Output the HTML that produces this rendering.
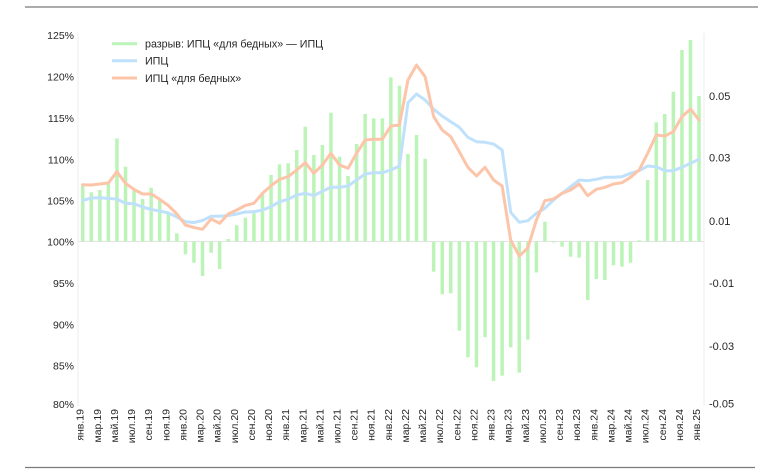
<!DOCTYPE html>
<html><head><meta charset="utf-8"><style>
html,body{margin:0;padding:0;background:#fff;}
body{width:780px;height:470px;overflow:hidden;}
svg text{font-family:"Liberation Sans","DejaVu Sans",sans-serif;fill:#262626;}
</style></head><body>
<svg width="780" height="470" viewBox="0 0 780 470" xmlns="http://www.w3.org/2000/svg">
<line x1="25" y1="7" x2="758" y2="7" stroke="#7a7a7a" stroke-width="1.3"/>
<line x1="25" y1="467.5" x2="755" y2="467.5" stroke="#7a7a7a" stroke-width="1.3"/>
<line x1="78" y1="33" x2="78" y2="406" stroke="#ececec" stroke-width="1"/>
<line x1="704" y1="33" x2="704" y2="406" stroke="#ececec" stroke-width="1"/>
<line x1="78" y1="241.5" x2="704" y2="241.5" stroke="#e4e4e4" stroke-width="1"/>
<g fill="#bcf4b8">
<rect x="81.0" y="184.5" width="3.5" height="57.0"/>
<rect x="89.5" y="192.3" width="3.5" height="49.2"/>
<rect x="98.1" y="190" width="3.5" height="51.5"/>
<rect x="106.6" y="184" width="3.5" height="57.5"/>
<rect x="115.2" y="138.5" width="3.5" height="103"/>
<rect x="123.8" y="166.7" width="3.5" height="74.8"/>
<rect x="132.3" y="190.5" width="3.5" height="51"/>
<rect x="140.9" y="199" width="3.5" height="42.5"/>
<rect x="149.4" y="187.7" width="3.5" height="53.8"/>
<rect x="158.0" y="199.5" width="3.5" height="42"/>
<rect x="166.6" y="213" width="3.5" height="28.5"/>
<rect x="175.1" y="233.3" width="3.5" height="8.2"/>
<rect x="183.7" y="241.5" width="3.5" height="12.8"/>
<rect x="192.2" y="241.5" width="3.5" height="21.2"/>
<rect x="200.8" y="241.5" width="3.5" height="34.5"/>
<rect x="209.4" y="241.5" width="3.5" height="11.2"/>
<rect x="217.9" y="241.5" width="3.5" height="27.5"/>
<rect x="226.5" y="239" width="3.5" height="2.5"/>
<rect x="235.0" y="225.3" width="3.5" height="16.2"/>
<rect x="243.6" y="217.7" width="3.5" height="23.8"/>
<rect x="252.2" y="213.3" width="3.5" height="28.2"/>
<rect x="260.7" y="192.7" width="3.5" height="48.8"/>
<rect x="269.3" y="175" width="3.5" height="66.5"/>
<rect x="277.8" y="164.3" width="3.5" height="77.2"/>
<rect x="286.4" y="163.3" width="3.5" height="78.2"/>
<rect x="295.0" y="150" width="3.5" height="91.5"/>
<rect x="303.5" y="126.7" width="3.5" height="114.8"/>
<rect x="312.1" y="155" width="3.5" height="86.5"/>
<rect x="320.6" y="145" width="3.5" height="96.5"/>
<rect x="329.2" y="112.7" width="3.5" height="128.8"/>
<rect x="337.8" y="156.7" width="3.5" height="84.8"/>
<rect x="346.3" y="176" width="3.5" height="65.5"/>
<rect x="354.9" y="144" width="3.5" height="97.5"/>
<rect x="363.4" y="114" width="3.5" height="127.5"/>
<rect x="372.0" y="118.3" width="3.5" height="123.2"/>
<rect x="380.6" y="118.3" width="3.5" height="123.2"/>
<rect x="389.1" y="77.3" width="3.5" height="164.2"/>
<rect x="397.7" y="85.7" width="3.5" height="155.8"/>
<rect x="406.2" y="154" width="3.5" height="87.5"/>
<rect x="414.8" y="135" width="3.5" height="106.5"/>
<rect x="423.4" y="158.7" width="3.5" height="82.8"/>
<rect x="431.9" y="241.5" width="3.5" height="30.2"/>
<rect x="440.5" y="241.5" width="3.5" height="52.8"/>
<rect x="449.0" y="241.5" width="3.5" height="51.8"/>
<rect x="457.6" y="241.5" width="3.5" height="89.2"/>
<rect x="466.2" y="241.5" width="3.5" height="115.8"/>
<rect x="474.7" y="241.5" width="3.5" height="125.8"/>
<rect x="483.3" y="241.5" width="3.5" height="95.8"/>
<rect x="491.8" y="241.5" width="3.5" height="139.5"/>
<rect x="500.4" y="241.5" width="3.5" height="134.2"/>
<rect x="509.0" y="241.5" width="3.5" height="105.8"/>
<rect x="517.5" y="241.5" width="3.5" height="131.2"/>
<rect x="526.1" y="241.5" width="3.5" height="98.2"/>
<rect x="534.6" y="241.5" width="3.5" height="31"/>
<rect x="543.2" y="221.7" width="3.5" height="19.8"/>
<rect x="551.8" y="241.5" width="3.5" height="1"/>
<rect x="560.3" y="241.5" width="3.5" height="5.2"/>
<rect x="568.9" y="241.5" width="3.5" height="15.2"/>
<rect x="577.4" y="241.5" width="3.5" height="16.2"/>
<rect x="586.0" y="241.5" width="3.5" height="58.5"/>
<rect x="594.6" y="241.5" width="3.5" height="37.5"/>
<rect x="603.1" y="241.5" width="3.5" height="38.5"/>
<rect x="611.7" y="241.5" width="3.5" height="23.8"/>
<rect x="620.2" y="241.5" width="3.5" height="25.2"/>
<rect x="628.8" y="241.5" width="3.5" height="21.2"/>
<rect x="637.4" y="240.3" width="3.5" height="1.2"/>
<rect x="645.9" y="180" width="3.5" height="61.5"/>
<rect x="654.5" y="122.3" width="3.5" height="119.2"/>
<rect x="663.0" y="114" width="3.5" height="127.5"/>
<rect x="671.6" y="91.7" width="3.5" height="149.8"/>
<rect x="680.2" y="50" width="3.5" height="191.5"/>
<rect x="688.7" y="40" width="3.5" height="201.5"/>
<rect x="697.3" y="96" width="3.5" height="145.5"/>
</g>
<polyline fill="none" stroke="#bfe1fb" stroke-width="3" stroke-linejoin="round" stroke-linecap="round" points="82.7,200.5 91.3,198 99.8,197.7 108.4,198.5 116.9,199 125.5,203.3 134.1,203.8 142.6,207 151.2,209.5 159.7,211 168.3,213 176.9,217 185.4,221.7 194,222.5 202.5,220.5 211.1,216.3 219.7,216.3 228.2,215.5 236.8,214 245.3,212 253.9,211.8 262.5,210 271,206.7 279.6,201.7 288.1,199.3 296.7,195 305.3,193.3 313.8,195.7 322.4,191.2 330.9,187.3 339.5,187.3 348.1,186 356.6,180 365.2,174 373.7,172.7 382.3,172.7 390.9,170 399.4,166 408,102.7 416.5,94 425.1,100 433.7,109.3 442.2,116 450.8,121.7 459.3,127.3 467.9,137.3 476.5,141.7 485,142.3 493.6,144 502.1,150 510.7,212.3 519.3,222.3 527.8,220.7 536.4,213.3 544.9,208.3 553.5,200 562.1,193.3 570.6,186.7 579.2,180 587.7,180.7 596.3,179.3 604.9,177.3 613.4,177.3 622,176.7 630.5,173.3 639.1,170.7 647.7,166 656.2,166.7 664.8,170.7 673.3,170.7 681.9,167.3 690.5,163.3 699,159.3"/>
<polyline fill="none" stroke="#fcc5a9" stroke-width="3" stroke-linejoin="round" stroke-linecap="round" points="82.7,184.7 91.3,185 99.8,184 108.4,183 116.9,171.7 125.5,183.3 134.1,189.5 142.6,194 151.2,194 159.7,199.3 168.3,205.5 176.9,214 185.4,225 194,227.5 202.5,229.3 211.1,219 219.7,223.3 228.2,214 236.8,210 245.3,205.5 253.9,203.3 262.5,193.3 271,185.7 279.6,179.3 288.1,176.7 296.7,170 305.3,162.7 313.8,173.3 322.4,165 330.9,153.3 339.5,165 348.1,168.3 356.6,153.3 365.2,140 373.7,139.3 382.3,139.3 390.9,126 399.4,125 408,80 416.5,65 425.1,76.7 433.7,116.7 442.2,130 450.8,136.7 459.3,151.7 467.9,167.3 476.5,176 485,167.3 493.6,180 502.1,186 510.7,240 519.3,256 527.8,248 536.4,220 544.9,200.7 553.5,199 562.1,193.3 570.6,190 579.2,184 587.7,195.7 596.3,189.3 604.9,187.3 613.4,184 622,182.7 630.5,177.3 639.1,170 647.7,153.3 656.2,135 664.8,136 673.3,131.7 681.9,116.7 690.5,109 699,120"/>
<g font-size="10.5" text-anchor="end">
<text x="74" y="39">125%</text>
<text x="74" y="80.4">120%</text>
<text x="74" y="122.2">115%</text>
<text x="74" y="163.5">110%</text>
<text x="74" y="204.7">105%</text>
<text x="74" y="245.7">100%</text>
<text x="74" y="287">95%</text>
<text x="74" y="328.5">90%</text>
<text x="74" y="369.7">85%</text>
<text x="74" y="408.2">80%</text>
</g>
<g font-size="11">
<text x="709" y="99.9">0.05</text>
<text x="709" y="161.6">0.03</text>
<text x="709" y="224.9">0.01</text>
<text x="709" y="287.2">-0.01</text>
<text x="709" y="349.9">-0.03</text>
<text x="709" y="407.4">-0.05</text>
</g>
<g font-size="10.5" text-anchor="end">
<text transform="translate(83.7,409) rotate(-90)">янв.19</text>
<text transform="translate(100.8,409) rotate(-90)">мар.19</text>
<text transform="translate(117.9,409) rotate(-90)">май.19</text>
<text transform="translate(135.1,409) rotate(-90)">июл.19</text>
<text transform="translate(152.2,409) rotate(-90)">сен.19</text>
<text transform="translate(169.3,409) rotate(-90)">ноя.19</text>
<text transform="translate(186.4,409) rotate(-90)">янв.20</text>
<text transform="translate(203.5,409) rotate(-90)">мар.20</text>
<text transform="translate(220.7,409) rotate(-90)">май.20</text>
<text transform="translate(237.8,409) rotate(-90)">июл.20</text>
<text transform="translate(254.9,409) rotate(-90)">сен.20</text>
<text transform="translate(272,409) rotate(-90)">ноя.20</text>
<text transform="translate(289.1,409) rotate(-90)">янв.21</text>
<text transform="translate(306.3,409) rotate(-90)">мар.21</text>
<text transform="translate(323.4,409) rotate(-90)">май.21</text>
<text transform="translate(340.5,409) rotate(-90)">июл.21</text>
<text transform="translate(357.6,409) rotate(-90)">сен.21</text>
<text transform="translate(374.7,409) rotate(-90)">ноя.21</text>
<text transform="translate(391.9,409) rotate(-90)">янв.22</text>
<text transform="translate(409,409) rotate(-90)">мар.22</text>
<text transform="translate(426.1,409) rotate(-90)">май.22</text>
<text transform="translate(443.2,409) rotate(-90)">июл.22</text>
<text transform="translate(460.3,409) rotate(-90)">сен.22</text>
<text transform="translate(477.5,409) rotate(-90)">ноя.22</text>
<text transform="translate(494.6,409) rotate(-90)">янв.23</text>
<text transform="translate(511.7,409) rotate(-90)">мар.23</text>
<text transform="translate(528.8,409) rotate(-90)">май.23</text>
<text transform="translate(545.9,409) rotate(-90)">июл.23</text>
<text transform="translate(563.1,409) rotate(-90)">сен.23</text>
<text transform="translate(580.2,409) rotate(-90)">ноя.23</text>
<text transform="translate(597.3,409) rotate(-90)">янв.24</text>
<text transform="translate(614.4,409) rotate(-90)">мар.24</text>
<text transform="translate(631.5,409) rotate(-90)">май.24</text>
<text transform="translate(648.7,409) rotate(-90)">июл.24</text>
<text transform="translate(665.8,409) rotate(-90)">сен.24</text>
<text transform="translate(682.9,409) rotate(-90)">ноя.24</text>
<text transform="translate(700,409) rotate(-90)">янв.25</text>
</g>
<line x1="112" y1="43.7" x2="137" y2="43.7" stroke="#bcf4b8" stroke-width="3"/>
<line x1="112" y1="60.7" x2="137" y2="60.7" stroke="#bfe1fb" stroke-width="3"/>
<line x1="112" y1="78" x2="137" y2="78" stroke="#fcc5a9" stroke-width="3"/>
<g font-size="10.7">
<text x="145" y="47.5">разрыв: ИПЦ «для бедных» — ИПЦ</text>
<text x="145" y="64.5">ИПЦ</text>
<text x="145" y="81.8">ИПЦ «для бедных»</text>
</g>
</svg>
</body></html>
